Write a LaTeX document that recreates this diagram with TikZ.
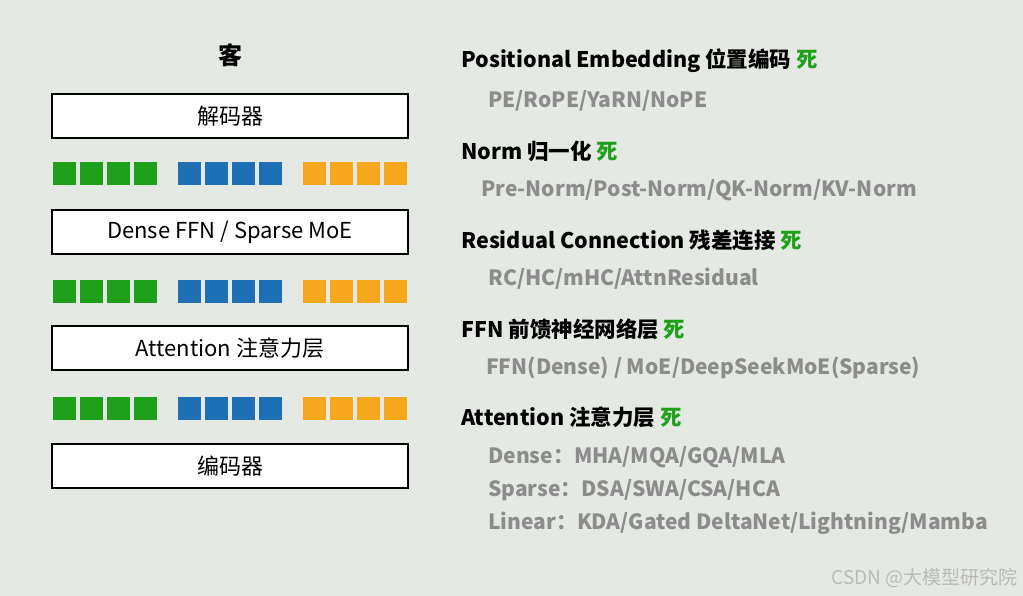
\documentclass[tikz,border=0pt]{standalone}
\usepackage{fontspec}
\setmainfont{Noto Sans CJK SC}
\definecolor{bg}{HTML}{E5E9E3}
\definecolor{gr}{HTML}{1FA01A}
\definecolor{bl}{HTML}{1F6FB5}
\definecolor{og}{HTML}{F6A81C}
\definecolor{tx}{HTML}{8C8C8C}
\begin{document}
\begin{tikzpicture}[x=1pt,y=-1pt,
  layer/.style={draw=black,line width=1.2pt,fill=white,minimum width=356pt,minimum height=44pt,font=\fontsize{22}{24}\selectfont,inner sep=0pt},
  sq/.style={minimum width=23pt,minimum height=23pt,inner sep=0pt},
  head/.style={anchor=west,font=\fontsize{21.5}{24}\selectfont\bfseries,inner sep=0pt},
  sub/.style={anchor=west,font=\fontsize{21}{24}\selectfont\bfseries,text=tx,inner sep=0pt}]
\fill[bg] (0,0) rectangle (1023,596);
\useasboundingbox (0,0) rectangle (1023,596);
\node[font=\fontsize{24}{26}\selectfont\bfseries] (title) at (230,55) {客};
\node[layer] (dec) at (230,116) {解码器};
\node[layer] (ffn) at (230,232) {Dense FFN / Sparse MoE};
\node[layer] (att) at (230,348) {Attention 注意力层};
\node[layer] (enc) at (230,466) {编码器};
\foreach \y in {174,291,408}{
  \foreach \x in {64.5,91.5,118.5,145.5}{\node[sq,fill=gr] at (\x,\y) {};}
  \foreach \x in {189.5,216.5,243.5,270.5}{\node[sq,fill=bl] at (\x,\y) {};}
  \foreach \x in {314.5,341.5,368.5,395.5}{\node[sq,fill=og] at (\x,\y) {};}
}
\node[head] (h1) at (461,61) {Positional Embedding 位置编码 {\color{gr}死}};
\node[sub] (s1) at (488,101) {PE/RoPE/YaRN/NoPE};
\node[head] (h2) at (461,151) {Norm 归一化 {\color{gr}死}};
\node[sub] (s2) at (481,190) {Pre-Norm/Post-Norm/QK-Norm/KV-Norm};
\node[head] (h3) at (461,240) {Residual Connection 残差连接 {\color{gr}死}};
\node[sub] (s3) at (488,279) {RC/HC/mHC/AttnResidual};
\node[head] (h4) at (461,329) {FFN 前馈神经网络层 {\color{gr}死}};
\node[sub] (s4) at (486,368) {FFN(Dense) / MoE/DeepSeekMoE(Sparse)};
\node[head] (h5) at (461,417) {Attention 注意力层 {\color{gr}死}};
\node[sub] (s5) at (488,457) {Dense：MHA/MQA/GQA/MLA};
\node[sub] (s6) at (488,490) {Sparse：DSA/SWA/CSA/HCA};
\node[sub] (s7) at (488,523) {Linear：KDA/Gated DeltaNet/Lightning/Mamba};
\node[anchor=east,font=\fontsize{19}{21}\selectfont,text=tx!60,inner sep=0pt] (wm) at (1018,578) {CSDN @大模型研究院};
\end{tikzpicture}
\end{document}
